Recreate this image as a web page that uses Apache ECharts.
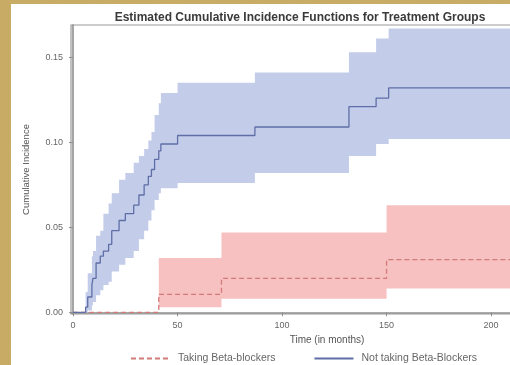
<!DOCTYPE html>
<html>
<head>
<meta charset="utf-8">
<script src="https://cdn.jsdelivr.net/npm/echarts@6/dist/echarts.min.js"></script>
<style>
  html, body { margin: 0; padding: 0; }
  body {
    width: 510px; height: 365px; overflow: hidden; position: relative;
    background-color: #c9ab63;
    background-image: url("data:image/svg+xml;utf8,<svg xmlns='http://www.w3.org/2000/svg' width='200' height='200'><filter id='n'><feTurbulence type='fractalNoise' baseFrequency='0.08' numOctaves='3'/><feColorMatrix values='0 0 0 0 0.55  0 0 0 0 0.42  0 0 0 0 0.15  0 0 0 0.55 0'/></filter><rect width='200' height='200' filter='url(%23n)'/></svg>");
  }
  #panel { position: absolute; left: 11px; top: 4px; right: 0; bottom: 0; background: #ffffff; }
  #chart { position: absolute; left: 0; top: 0; width: 510px; height: 365px; }
</style>
</head>
<body>
<div id="panel"></div>
<div id="chart"></div>
<script>
// Estimated cumulative incidence (step functions) with 95% confidence bands.

// Not taking beta-blockers
const notTakingTimes = [0, 6, 7, 9, 9.5, 11, 13, 14.5, 17, 18.5, 22, 25, 29, 31.5, 34, 36, 37.5, 39, 41, 42, 50, 87, 132, 145, 151, 240];
const notTakingCIF   = [0, 0.003, 0.009, 0.016, 0.020, 0.029, 0.033, 0.036, 0.040, 0.048, 0.054, 0.058, 0.063, 0.069, 0.075, 0.080, 0.084, 0.090, 0.095, 0.099, 0.104, 0.109, 0.121, 0.126, 0.132, 0.132];
const notTakingLower = [0, 0, 0.001, 0.004, 0.006, 0.010, 0.013, 0.016, 0.018, 0.024, 0.028, 0.032, 0.036, 0.043, 0.048, 0.054, 0.060, 0.066, 0.070, 0.073, 0.076, 0.082, 0.092, 0.099, 0.102, 0.102];
const notTakingUpper = [0, 0.012, 0.023, 0.033, 0.036, 0.045, 0.048, 0.058, 0.064, 0.070, 0.078, 0.082, 0.088, 0.092, 0.096, 0.101, 0.106, 0.116, 0.123, 0.129, 0.135, 0.141, 0.153, 0.161, 0.167, 0.167];

// Taking beta-blockers
const takingTimes = [0, 41, 71, 150, 240];
const takingCIF   = [0, 0.0106, 0.020, 0.031, 0.031];
const takingLower = [0, 0.003, 0.008, 0.014, 0.014];
const takingUpper = [0, 0.032, 0.047, 0.063, 0.063];

// Axis ticks
const xTicks = [0, 50, 100, 150, 200];
const yTicks = [0, 0.05, 0.10, 0.15];

const LABEL_TAKING = 'Taking Beta-blockers';
const LABEL_NOT_TAKING = 'Not taking Beta-Blockers';

function pairs(times, vals) {
  return times.map((t, i) => [t, vals[i]]);
}

// Step-shaped band between lower and upper limits, placed through the axis scales.
function bandSeries(times, lower, upper, fill) {
  return {
    type: 'custom',
    silent: true,
    z: 1,
    data: [[times[0], lower[0]]],
    renderItem: function (params, api) {
      const pts = [];
      for (let i = 0; i < times.length - 1; i++) {
        pts.push(api.coord([times[i], upper[i]]));
        pts.push(api.coord([times[i + 1], upper[i]]));
      }
      for (let i = times.length - 2; i >= 0; i--) {
        pts.push(api.coord([times[i + 1], lower[i]]));
        pts.push(api.coord([times[i], lower[i]]));
      }
      return { type: 'polygon', shape: { points: pts }, style: { fill: fill } };
    }
  };
}

const FONT = '"Liberation Sans", Arial, sans-serif';
const chart = echarts.init(document.getElementById('chart'), null, { renderer: 'canvas' });

chart.setOption({
  backgroundColor: 'transparent',
  animation: false,
  title: {
    text: 'Estimated Cumulative Incidence Functions for Treatment Groups',
    left: 295, top: 7, textAlign: 'center',
    textStyle: { fontFamily: FONT, fontSize: 12, fontWeight: 'bold', color: '#3a3a3a' }
  },
  legend: {
    data: [LABEL_TAKING, LABEL_NOT_TAKING],
    left: 125, top: 348,
    itemWidth: 39, itemHeight: 14, itemGap: 38,
    itemStyle: { opacity: 0 },
    textStyle: { fontFamily: FONT, fontSize: 10.5, color: '#666', padding: [0, 0, 0, 3] }
  },
  grid: {
    left: 71, top: 25, right: -73, bottom: 51,
    outerBoundsMode: 'none',
    show: true, borderColor: '#9a9a9a', borderWidth: 1.2, backgroundColor: 'transparent'
  },
  xAxis: {
    type: 'value', min: -1, max: 244,
    name: 'Time (in months)', nameLocation: 'middle', nameGap: 20,
    nameTextStyle: { fontFamily: FONT, fontSize: 10, color: '#555' },
    axisLine: { lineStyle: { color: '#8f8f8f', width: 1.6 } },
    axisTick: { customValues: xTicks, length: 4, lineStyle: { color: '#8f8f8f' } },
    axisLabel: { customValues: xTicks, fontFamily: FONT, fontSize: 9, color: '#666', margin: 7 },
    splitLine: { show: false }
  },
  yAxis: {
    type: 'value', min: -0.001, max: 0.169,
    name: 'Cumulative Incidence', nameLocation: 'middle', nameGap: 40,
    nameTextStyle: { fontFamily: FONT, fontSize: 9.5, color: '#555' },
    axisLine: { show: true, lineStyle: { color: '#8f8f8f', width: 1.6 } },
    axisTick: { show: true, customValues: yTicks, length: 4, lineStyle: { color: '#8f8f8f' } },
    axisLabel: {
      customValues: yTicks, fontFamily: FONT, fontSize: 9, color: '#666', margin: 8,
      formatter: v => v.toFixed(2)
    },
    splitLine: { show: false }
  },
  series: [
    bandSeries(notTakingTimes, notTakingLower, notTakingUpper, '#c3cdea'),
    bandSeries(takingTimes, takingLower, takingUpper, '#f8c1c1'),
    {
      name: LABEL_TAKING, type: 'line', step: 'end', z: 3,
      data: pairs(takingTimes, takingCIF),
      symbol: 'none', color: '#d27a78',
      lineStyle: { color: '#d27a78', width: 1.3, type: [5, 3] }
    },
    {
      name: LABEL_NOT_TAKING, type: 'line', step: 'end', z: 4,
      data: pairs(notTakingTimes, notTakingCIF),
      symbol: 'none', color: '#5f6ea6',
      lineStyle: { color: '#5f6ea6', width: 1.3 }
    }
  ]
});
</script>
</body>
</html>
